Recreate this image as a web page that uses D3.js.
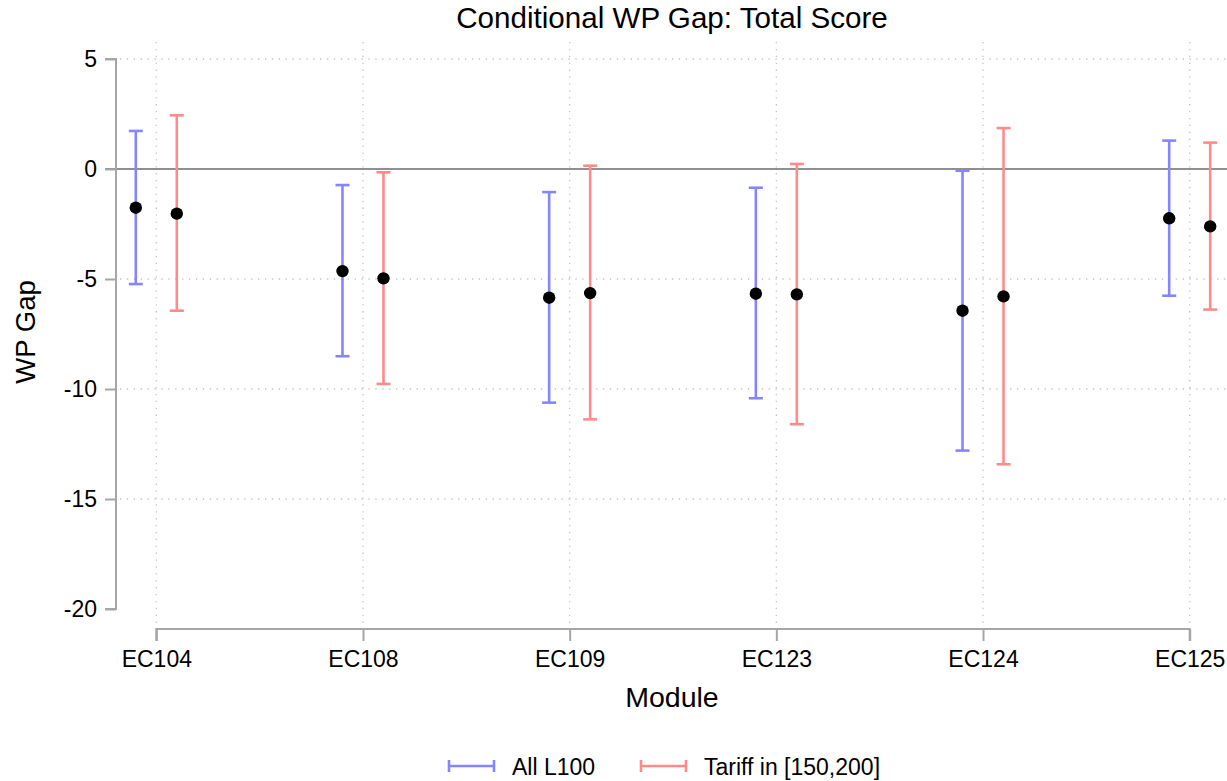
<!DOCTYPE html>
<html>
<head>
<meta charset="utf-8">
<script src="https://cdn.jsdelivr.net/npm/d3@7"></script>
<style>
  html, body { margin: 0; padding: 0; background: #fff; }
  svg { display: block; font-family: "Liberation Sans", Arial, sans-serif; }
</style>
</head>
<body>
<svg id="chart" width="1227" height="781"></svg>
<script>
// Modules on the x axis
const modules = ["EC104", "EC108", "EC109", "EC123", "EC124", "EC125"];

// Series: All L100
const allEst   = [-1.76, -4.64, -5.85, -5.67, -6.44, -2.24];
const allLow   = [-5.23, -8.51, -10.62, -10.42, -12.80, -5.76];
const allHigh  = [1.73, -0.73, -1.05, -0.85, -0.08, 1.29];

// Series: Tariff in [150,200]
const tarEst   = [-2.03, -4.97, -5.64, -5.70, -5.79, -2.61];
const tarLow   = [-6.44, -9.77, -11.38, -11.60, -13.42, -6.39];
const tarHigh  = [2.44, -0.15, 0.15, 0.23, 1.86, 1.20];

const yTicks = [5, 0, -5, -10, -15, -20];
const gridY = [5, -5, -10, -15];

const seriesNames = ["All L100", "Tariff in [150,200]"];
const seriesColors = ["#8585ff", "#ff8a8a"];

const svg = d3.select("#chart");
const W = 1227;

const x = d3.scalePoint().domain(modules).range([156.3, 1189.7]);
const y = d3.scaleLinear().domain([-20, 5]).range([609, 59]);
const offsets = [-20.5, 20.5];

const plotTop = 42, plotBottom = 624, plotLeft = 116, plotRight = W + 10;

// Grid lines
svg.append("g").selectAll("line").data(gridY).join("line")
  .attr("x1", plotLeft + 4).attr("x2", plotRight)
  .attr("y1", d => y(d)).attr("y2", d => y(d))
  .attr("stroke", "#c4c4c4").attr("stroke-width", 1.3)
  .attr("stroke-dasharray", "1.3,5.6");

svg.append("g").selectAll("line").data(modules).join("line")
  .attr("x1", d => x(d)).attr("x2", d => x(d))
  .attr("y1", plotTop).attr("y2", plotBottom)
  .attr("stroke", "#c4c4c4").attr("stroke-width", 1.3)
  .attr("stroke-dasharray", "1.3,5.6");

// Zero reference line
svg.append("line")
  .attr("x1", 105).attr("x2", plotRight)
  .attr("y1", y(0)).attr("y2", y(0))
  .attr("stroke", "#8f8f8f").attr("stroke-width", 2);

// Y axis
const yAxis = d3.axisLeft(y).tickValues(yTicks).tickSize(11).tickPadding(8)
  .tickFormat(d => String(d));
const gy = svg.append("g").attr("transform", `translate(${plotLeft},0)`).call(yAxis);
gy.select(".domain").attr("stroke", "#a6a6a6").attr("stroke-width", 2)
  .attr("d", `M-11,${y(5)}H0V${y(-20)}H-11`);
gy.selectAll(".tick line").attr("stroke", "#a6a6a6").attr("stroke-width", 2);
gy.selectAll(".tick text").attr("font-size", 23).attr("fill", "#000")
  .attr("font-family", "Liberation Sans, Arial, sans-serif");

// X axis
const xAxis = d3.axisBottom(x).tickSize(12).tickPadding(10);
const gx = svg.append("g").attr("transform", `translate(0,629)`).call(xAxis);
gx.select(".domain").attr("stroke", "#a6a6a6").attr("stroke-width", 2)
  .attr("d", `M${x(modules[0])},12V0H${x(modules[modules.length - 1])}V12`);
gx.selectAll(".tick line").attr("stroke", "#a6a6a6").attr("stroke-width", 2);
gx.selectAll(".tick text").attr("font-size", 23).attr("fill", "#000")
  .attr("font-family", "Liberation Sans, Arial, sans-serif");

// Error bars and point estimates
const series = [
  { est: allEst, low: allLow, high: allHigh },
  { est: tarEst, low: tarLow, high: tarHigh }
];
const capHalf = 7;

series.forEach((s, si) => {
  const g = svg.append("g");
  const rows = modules.map((m, i) => ({ m, est: s.est[i], low: s.low[i], high: s.high[i] }));
  const cx = d => x(d.m) + offsets[si];
  g.selectAll("line.bar").data(rows).join("line").attr("class", "bar")
    .attr("x1", cx).attr("x2", cx)
    .attr("y1", d => y(d.high)).attr("y2", d => y(d.low))
    .attr("stroke", seriesColors[si]).attr("stroke-width", 2.6);
  ["high", "low"].forEach(k => {
    g.selectAll("line.cap-" + k).data(rows).join("line").attr("class", "cap-" + k)
      .attr("x1", d => cx(d) - capHalf).attr("x2", d => cx(d) + capHalf)
      .attr("y1", d => y(d[k])).attr("y2", d => y(d[k]))
      .attr("stroke", seriesColors[si]).attr("stroke-width", 2.6);
  });
});

series.forEach((s, si) => {
  svg.append("g").selectAll("circle").data(modules).join("circle")
    .attr("cx", (m) => x(m) + offsets[si])
    .attr("cy", (m, i) => y(s.est[i]))
    .attr("r", 6.2).attr("fill", "#000");
});

// Titles
svg.append("text").attr("x", 672).attr("y", 28).attr("text-anchor", "middle")
  .attr("font-size", 29.6).attr("fill", "#000").text("Conditional WP Gap: Total Score");
svg.append("text").attr("x", 672).attr("y", 707).attr("text-anchor", "middle")
  .attr("font-size", 28.5).attr("fill", "#000").text("Module");
svg.append("text").attr("transform", "translate(35,332) rotate(-90)")
  .attr("text-anchor", "middle").attr("font-size", 27.5).attr("fill", "#000").text("WP Gap");

// Legend
const legendX = [449, 641];
const leg = svg.append("g");
seriesNames.forEach((name, i) => {
  const lx = legendX[i], ly = 766;
  leg.append("line").attr("x1", lx).attr("x2", lx + 45).attr("y1", ly).attr("y2", ly)
    .attr("stroke", seriesColors[i]).attr("stroke-width", 2.6);
  [lx, lx + 45].forEach(px => leg.append("line")
    .attr("x1", px).attr("x2", px).attr("y1", ly - 6).attr("y2", ly + 6)
    .attr("stroke", seriesColors[i]).attr("stroke-width", 2.6));
  leg.append("text").attr("x", lx + 63).attr("y", ly + 8.5)
    .attr("font-size", 23).attr("fill", "#000").text(name);
});
</script>
</body>
</html>
